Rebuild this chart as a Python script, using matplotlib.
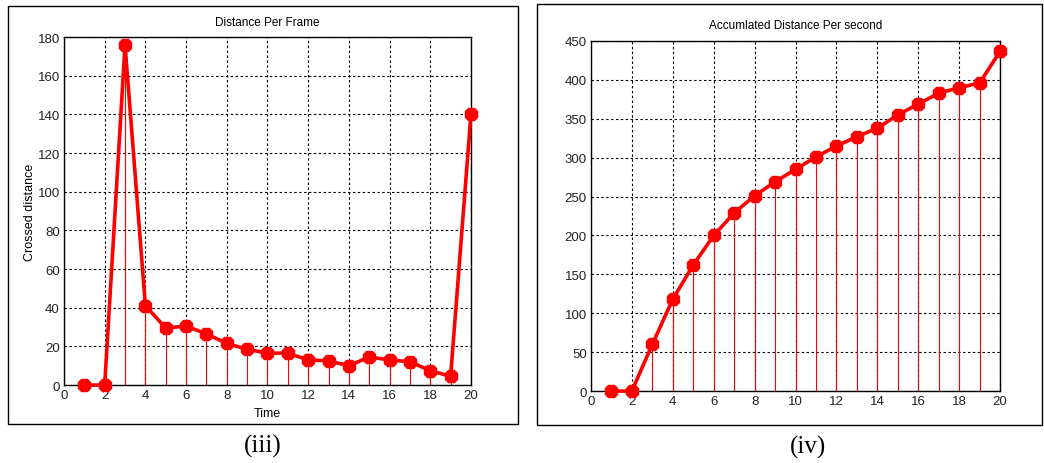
import matplotlib
matplotlib.use("Agg")
import matplotlib.pyplot as plt
from matplotlib.patches import Rectangle

# ─────────────────────────────────────────────
#  DATA
# ─────────────────────────────────────────────
time = list(range(1, 21))
dist_per_frame = [0, 0, 176, 41, 29.5, 30.5, 26.5, 21.5, 18.5, 16.5,
                  16.5, 13, 12.5, 10, 14.5, 13, 12, 7.5, 4.5, 140]
accum_dist = [0, 0, 60, 118, 162, 200, 229, 251, 269, 285,
              301, 315, 327, 338, 355, 369, 383, 390, 396, 437]

x_ticks = list(range(0, 21, 2))
left_yticks = list(range(0, 181, 20))
right_yticks = list(range(0, 451, 50))

RED = "#ff0000"
plt.rcParams["font.family"] = ["Liberation Sans", "DejaVu Sans"]


def draw_panel(ax, y, yticks, title, xlabel=None, ylabel=None):
    ax.vlines(time, 0, y, colors=RED, linewidth=0.8, zorder=2)
    ax.plot(time, y, color=RED, linewidth=2.6, marker="8",
            markersize=9.5, zorder=3, clip_on=False)
    ax.set_xlim(0, 20)
    ax.set_ylim(yticks[0], yticks[-1])
    ax.set_xticks(x_ticks)
    ax.set_yticks(yticks)
    ax.grid(True, color="black", linestyle=(0, (2.2, 2.2)), linewidth=0.8)
    ax.tick_params(labelsize=9.5, length=0, pad=3, colors="#222222")
    for s in ax.spines.values():
        s.set_linewidth(1.0)
    ax.set_title(title, fontsize=8.5, pad=9)
    if xlabel:
        ax.set_xlabel(xlabel, fontsize=9, labelpad=4)
    if ylabel:
        ax.set_ylabel(ylabel, fontsize=9, labelpad=1)


fig = plt.figure(figsize=(10.44, 4.64), dpi=100, facecolor="white")

# panel frames
fig.patches.append(Rectangle((0.0077, 0.084), 0.4885, 0.901, transform=fig.transFigure,
                             fill=False, edgecolor="black", linewidth=1.0))
fig.patches.append(Rectangle((0.514, 0.082), 0.484, 0.907, transform=fig.transFigure,
                             fill=False, edgecolor="black", linewidth=1.0))

ax1 = fig.add_axes([0.0613, 0.168, 0.3898, 0.750])
draw_panel(ax1, dist_per_frame, left_yticks, "Distance Per Frame",
           xlabel="Time", ylabel="Crossed distance")

ax2 = fig.add_axes([0.566, 0.155, 0.392, 0.7545])
draw_panel(ax2, accum_dist, right_yticks, "Accumlated Distance Per second")

fig.text(0.252, 0.038, "(iii)", fontsize=18, ha="center", va="center",
         family=["Liberation Serif", "DejaVu Serif"])
fig.text(0.774, 0.036, "(iv)", fontsize=18, ha="center", va="center",
         family=["Liberation Serif", "DejaVu Serif"])

fig.savefig("out.png", dpi=100, facecolor="white")
